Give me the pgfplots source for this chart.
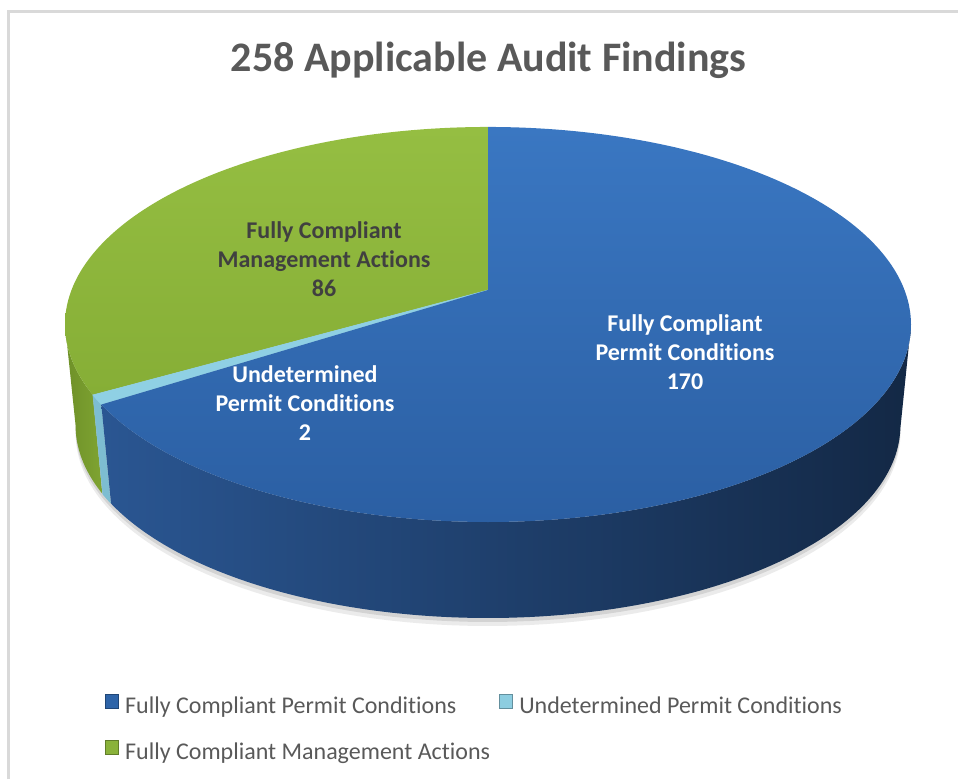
\documentclass[border=0pt]{standalone}
\usepackage{pgfplots}
\pgfplotsset{compat=1.18}
\usepackage{fontspec}
\setmainfont{Carlito}[Ligatures=NoCommon]
\definecolor{cTitle}{HTML}{595959}
\definecolor{cDark}{HTML}{404040}
\definecolor{cBorder}{HTML}{D9D9D9}
\definecolor{bTopA}{HTML}{3A77C2}
\definecolor{bTopB}{HTML}{2B5FA3}
\definecolor{bSideL}{HTML}{2A5692}
\definecolor{bSideM}{HTML}{1C3A63}
\definecolor{bSideR}{HTML}{132845}
\definecolor{gTopA}{HTML}{95BE42}
\definecolor{gTopB}{HTML}{86AE36}
\definecolor{gSideL}{HTML}{6E9028}
\definecolor{gSideR}{HTML}{7FA432}
\definecolor{lTop}{HTML}{8FD0E4}
\definecolor{lSide}{HTML}{7DBDD1}
\definecolor{legB}{HTML}{2E64A8}
\definecolor{legL}{HTML}{8DCDE0}
\definecolor{legG}{HTML}{8AB23A}
\begin{document}%
\begin{tikzpicture}
% data
\def\vA{170}\def\vB{2}\def\vC{86}
\pgfmathsetmacro\tot{\vA+\vB+\vC}
\pgfmathsetmacro\aA{90-\vA/\tot*360}
\pgfmathsetmacro\aB{\aA-\vB/\tot*360}
\pgfmathsetmacro\aC{\aB-\vC/\tot*360}
\pgfmathsetmacro\sL{-180+asin(0.1746)}
\pgfmathsetmacro\sR{-asin(0.1746)}
\begin{axis}[
  name=ax,
  scale only axis, width=958pt, height=779pt,
  xmin=0, xmax=958, ymin=0, ymax=779,
  hide axis, clip=false,
  declare function={
    px(\t,\l)=488+(1-\l*(1-0.975))*416.5*cos(\t)/(1+0.1746*sin(\t));
    py(\t,\l)=489+(1-\l*(1-0.975))*191.5*sin(\t)/(1+0.1746*sin(\t))-\l*101.8;
    th(\u,\a,\b)=(\u<=1)*(\a+(\b-\a)*\u)+(\u>1)*(\b-(\b-\a)*(\u-1));
  },
  legend columns=2, legend cell align=left,
  legend style={at={(axis description cs:0.1096,0.1085)}, anchor=north west,
    draw=none, fill=none, inner sep=0pt, outer sep=0pt,
    font=\fontsize{24}{29}\selectfont, text=cTitle,
    nodes={inner sep=0pt, text height=17pt, text depth=5pt},
    row sep=22pt,
    /tikz/every even column/.append style={column sep=9pt}},
  legend image code/.code={\draw[#1, line width=0.8pt] (0.4pt,-0.6pt) rectangle (13.6pt,12.6pt); \path (20pt,0pt);},
]
\path (axis cs:0,0) rectangle (axis cs:958,779);
% shadow
\addplot[forget plot, draw=none, fill=black, opacity=0.10, domain=0:360, samples=200, variable=\t]
  ({px(\t,1)}, {py(\t,1)-4}) -- cycle;
\addplot[forget plot, draw=none, fill=black, opacity=0.08, domain=0:360, samples=200, variable=\t]
  ({px(\t,1)}, {py(\t,1)-8}) -- cycle;
% sides
\addplot[forget plot, draw=none, left color=gSideL, right color=gSideR, domain=0:2, samples=241, variable=\u]
  ({px(th(\u,\sL,\aB),\u>1)}, {py(th(\u,\sL,\aB),\u>1)}) -- cycle;
\addplot[forget plot, draw=lSide, line width=0.3pt, fill=lSide, domain=0:2, samples=41, variable=\u]
  ({px(th(\u,\aB,\aA),\u>1)}, {py(th(\u,\aB,\aA),\u>1)}) -- cycle;
\addplot[forget plot, draw=none, left color=bSideL, middle color=bSideM, right color=bSideR, domain=0:2, samples=301, variable=\u]
  ({px(th(\u,\aA,\sR),\u>1)}, {py(th(\u,\aA,\sR),\u>1)}) -- cycle;
% tops
\addplot[forget plot, draw=none, top color=gTopA, bottom color=gTopB, domain=\aC:\aB, samples=120, variable=\t]
  ({px(\t,0)}, {py(\t,0)}) -- (axis cs:488,489) -- cycle;
\addplot[forget plot, draw=lTop, line width=0.4pt, fill=lTop, domain=\aB:\aA, samples=10, variable=\t]
  ({px(\t,0)}, {py(\t,0)}) -- (axis cs:488,489) -- cycle;
\addplot[forget plot, draw=none, top color=bTopA, bottom color=bTopB, domain=\aA:90, samples=200, variable=\t]
  ({px(\t,0)}, {py(\t,0)}) -- (axis cs:488,489) -- cycle;
% labels
\node[font=\bfseries\fontsize{24}{29}\selectfont, text=white, align=center] at (axis cs:685,427) {Fully Compliant\\Permit Conditions\\170};
\node[font=\bfseries\fontsize{24}{29}\selectfont, text=cDark, align=center] at (axis cs:324,519.5) {Fully Compliant\\Management Actions\\86};
\node[font=\bfseries\fontsize{24}{29}\selectfont, text=white, align=center] at (axis cs:305,375.5) {Undetermined\\Permit Conditions\\2};
% title
\node[font=\bfseries\fontsize{42}{50}\selectfont, text=cTitle, anchor=base] at (axis cs:488.5,707) {258 Applicable Audit Findings};
% border
\draw[cBorder, line width=2.5pt] (axis cs:8.5,0) -- (axis cs:8.5,767.5) -- (axis cs:958,767.5);
% legend
\addlegendimage{fill=legB, draw=legB!70!black}
\addlegendentry{Fully Compliant Permit Conditions}
\addlegendimage{fill=legL, draw=legL!70!black}
\addlegendentry{Undetermined Permit Conditions}
\addlegendimage{fill=legG, draw=legG!70!black}
\addlegendentry{Fully Compliant Management Actions}
\end{axis}
\pgfresetboundingbox
\path[use as bounding box] (ax.south west) rectangle (ax.north east);
\end{tikzpicture}%
\end{document}
